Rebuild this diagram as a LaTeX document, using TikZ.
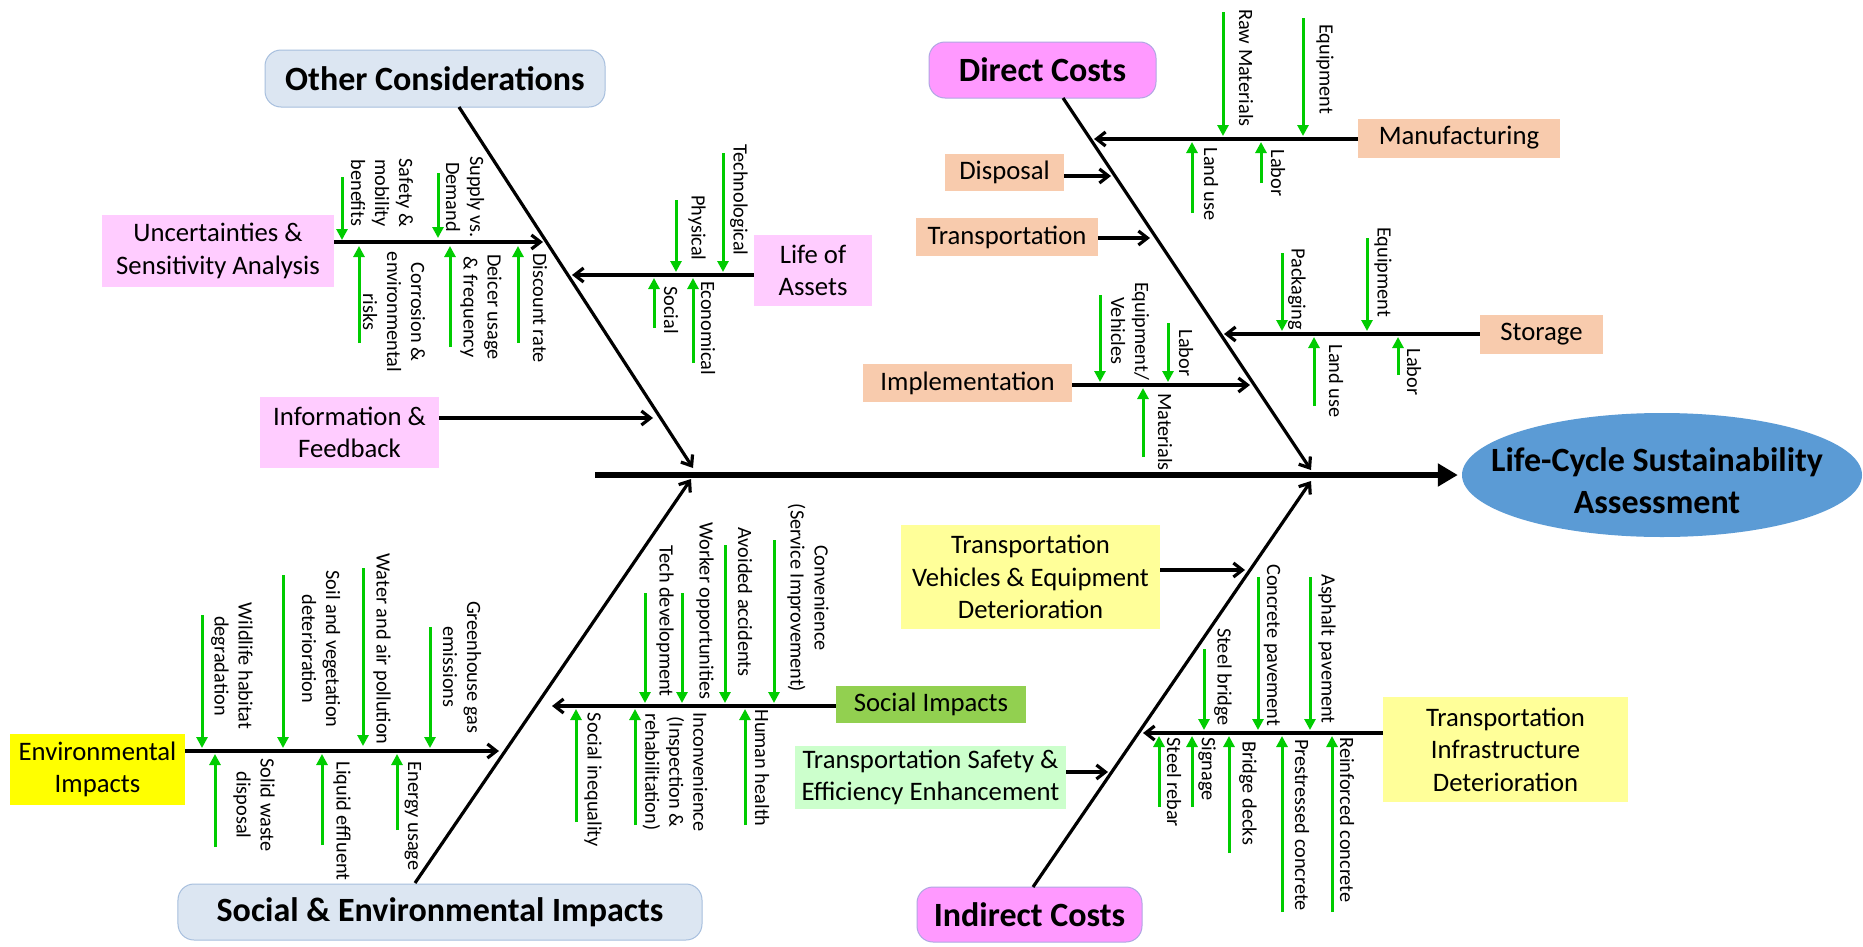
\documentclass[tikz,border=0pt]{standalone}
\usepackage{fontspec}
\setmainfont{Carlito}
\usetikzlibrary{arrows.meta,shapes.geometric}
\definecolor{grn}{HTML}{00CC00}
\definecolor{peach}{HTML}{F8CBAD}
\definecolor{lpink}{HTML}{FFCCFF}
\definecolor{mag}{HTML}{FF99FF}
\definecolor{magline}{HTML}{B0A6E3}
\definecolor{lblue}{HTML}{DCE6F2}
\definecolor{lblueline}{HTML}{A7BFDE}
\definecolor{envy}{HTML}{FFFF00}
\definecolor{ly}{HTML}{FFFF99}
\definecolor{sgreen}{HTML}{92D050}
\definecolor{lgreen}{HTML}{CCFFCC}
\definecolor{ellblue}{HTML}{5B9BD5}
\begin{document}
\begin{tikzpicture}[x=1bp,y=-1bp,
  box/.style={draw=none,inner sep=0pt,align=center,font=\fontsize{26.7bp}{32.5bp}\selectfont},
  ttl/.style={rounded corners=16bp,line width=1bp,inner sep=0pt,font=\fontsize{34bp}{42bp}\selectfont\bfseries},
  lab/.style={rotate=-90,align=center,inner sep=0pt,font=\fontsize{20.3bp}{24bp}\selectfont},
  br/.style={line width=3.2bp,-{Straight Barb[length=9bp,width=14bp]}},
  ga/.style={draw=grn,line width=3bp,-{Triangle[length=11bp,width=11bp]}},
]
\useasboundingbox[fill=white] (0,0) rectangle (1863,946);

% ---------- title boxes ----------
\node[ttl,draw=lblueline,fill=lblue,minimum width=340bp,minimum height=57bp] (oc) at (435,78.5) {Other Considerations};
\node[ttl,draw=magline,fill=mag,minimum width=227bp,minimum height=56bp] (dc) at (1042.5,70) {Direct Costs};
\node[ttl,draw=lblueline,fill=lblue,minimum width=524bp,minimum height=56bp] (se) at (440,912) {Social \& Environmental Impacts};
\node[ttl,draw=magline,fill=mag,minimum width=225bp,minimum height=55bp] (ic) at (1029.5,914.5) {Indirect Costs};

% ---------- effect ----------
\node[ellipse,fill=ellblue,minimum width=400bp,minimum height=124bp,inner sep=0pt] (lcsa) at (1662,475) {};
\node[align=center,inner sep=0pt,font=\fontsize{34bp}{42bp}\selectfont\bfseries] (lcsaText) at (1657,481) {Life-Cycle Sustainability\\Assessment};

% ---------- cause boxes ----------
\node[box,fill=peach,minimum width=202bp,minimum height=39bp] (manu) at (1459,138) {Manufacturing};
\node[box,fill=peach,minimum width=119bp,minimum height=37bp] (disp) at (1004.5,172) {Disposal};
\node[box,fill=peach,minimum width=182bp,minimum height=38bp] (trans) at (1007,237) {Transportation};
\node[box,fill=peach,minimum width=123bp,minimum height=39bp] (stor) at (1541.5,334.5) {Storage};
\node[box,fill=peach,minimum width=209bp,minimum height=38bp] (impl) at (967.5,383) {Implementation};
\node[box,fill=lpink,minimum width=232bp,minimum height=72bp] (unc) at (218,251) {Uncertainties \&\\Sensitivity Analysis};
\node[box,fill=lpink,minimum width=118bp,minimum height=71bp] (loa) at (813,270.5) {Life of\\Assets};
\node[box,fill=lpink,minimum width=179bp,minimum height=71bp] (info) at (349.5,432.5) {Information \&\\Feedback};
\node[box,fill=envy,minimum width=175bp,minimum height=71bp] (env) at (97.5,769.5) {Environmental\\Impacts};
\node[box,fill=sgreen,minimum width=190bp,minimum height=37bp] (soc) at (931,704.5) {Social Impacts};
\node[box,fill=ly,minimum width=259bp,minimum height=104bp] (tved) at (1030.5,577) {Transportation\\Vehicles \& Equipment\\Deterioration};
\node[box,fill=lgreen,minimum width=271bp,minimum height=63bp] (tsee) at (930.5,777.5) {Transportation Safety \&\\Efficiency Enhancement};
\node[box,fill=ly,minimum width=245bp,minimum height=105bp] (tid) at (1505.5,749.5) {Transportation\\Infrastructure\\Deterioration};

% ---------- spine coordinates ----------
\coordinate (ocTop) at (459,107);
\coordinate (ocTip) at (693,468);
\coordinate (dcTop) at (1063,98);
\coordinate (dcTip) at (1311,470);
\coordinate (seBot) at (415,883);
\coordinate (seTip) at (691,479);
\coordinate (icBot) at (1033,887);
\coordinate (icTip) at (1311,481);
\coordinate (mainStart) at (595,475);

% ---------- branch tips ----------
\coordinate (tUnc) at (543,242);
\coordinate (tLoA) at (572,275);
\coordinate (tInfo) at (653,418);
\coordinate (tManu) at (1094,139);
\coordinate (tDisp) at (1111,176);
\coordinate (tTrans) at (1150,238);
\coordinate (tStor) at (1224,334);
\coordinate (tImpl) at (1250,385);
\coordinate (tEnv) at (499,751);
\coordinate (tSoc) at (552,706);
\coordinate (tTVED) at (1245,570);
\coordinate (tTSEE) at (1108,772);
\coordinate (tTID) at (1143,733);

% ---------- main spine and bones ----------
\draw[line width=6bp,-{Triangle[length=20bp,width=22bp]},shorten >=4bp] (mainStart) -- (lcsa.west);
\draw[br] (ocTop) -- (ocTip);
\draw[br] (dcTop) -- (dcTip);
\draw[br] (seBot) -- (seTip);
\draw[br] (icBot) -- (icTip);

% ---------- branches ----------
\draw[br] (unc.east |- tUnc) -- (tUnc);
\draw[br] (loa.west |- tLoA) -- (tLoA);
\draw[br] (info.east |- tInfo) -- (tInfo);
\draw[br] (manu.west |- tManu) -- (tManu);
\draw[br] (disp.east |- tDisp) -- (tDisp);
\draw[br] (trans.east |- tTrans) -- (tTrans);
\draw[br] (stor.west |- tStor) -- (tStor);
\draw[br] (impl.east |- tImpl) -- (tImpl);
\draw[br] (env.east |- tEnv) -- (tEnv);
\draw[br] (soc.west |- tSoc) -- (tSoc);
\draw[br] (tved.east |- tTVED) -- (tTVED);
\draw[br] (tsee.east |- tTSEE) -- (tTSEE);
\draw[br] (tid.west |- tTID) -- (tTID);

% ---------- green sub-cause arrows ----------
% Uncertainties
\draw[ga] (342,177) -- (342,240);
\draw[ga] (438,173) -- (438,238);
\draw[ga] (359,343) -- (359,246);
\draw[ga] (450,347) -- (450,246);
\draw[ga] (518,343) -- (518,246);
% Life of assets
\draw[ga] (723,153) -- (723,272);
\draw[ga] (676,200) -- (676,272);
\draw[ga] (654,328) -- (654,278);
\draw[ga] (693,363) -- (693,278);
% Manufacturing
\draw[ga] (1223,12) -- (1223,136);
\draw[ga] (1303,18) -- (1303,136);
\draw[ga] (1192,213) -- (1192,142);
\draw[ga] (1261,183) -- (1261,142);
% Storage
\draw[ga] (1282,253) -- (1282,331);
\draw[ga] (1367,238) -- (1367,331);
\draw[ga] (1314,406) -- (1314,337);
\draw[ga] (1398,375) -- (1398,337);
% Implementation
\draw[ga] (1100,295) -- (1100,382);
\draw[ga] (1168,323) -- (1168,382);
\draw[ga] (1143,457) -- (1143,388);
% Environmental
\draw[ga] (202,615) -- (202,748);
\draw[ga] (283,575) -- (283,748);
\draw[ga] (363,568) -- (363,746);
\draw[ga] (430,627) -- (430,748);
\draw[ga] (215,847) -- (215,754);
\draw[ga] (322,845) -- (322,754);
\draw[ga] (397,830) -- (397,754);
% Social
\draw[ga] (774,540) -- (774,703);
\draw[ga] (725,545) -- (725,703);
\draw[ga] (682,593) -- (682,703);
\draw[ga] (645,593) -- (645,703);
\draw[ga] (576,822) -- (576,709);
\draw[ga] (745,825) -- (745,709);
\draw[ga] (635,825) -- (635,709);
% Infrastructure
\draw[ga] (1204,649) -- (1204,730);
\draw[ga] (1258,577) -- (1258,730);
\draw[ga] (1310,577) -- (1310,730);
\draw[ga] (1159,807) -- (1159,736);
\draw[ga] (1192,807) -- (1192,736);
\draw[ga] (1229,853) -- (1229,736);
\draw[ga] (1282,912) -- (1282,736);
\draw[ga] (1332,912) -- (1332,736);

% ---------- labels ----------
\node[lab] (l1) at (382,193) {Safety \&\\mobility\\benefits};
\node[lab] (l2) at (465,197) {Supply vs.\\Demand};
\node[lab] (l3) at (394,312) {Corrosion \&\\environmental\\risks};
\node[lab] (l4) at (481,307) {Deicer usage\\\& frequency};
\node[lab] (l5) at (540,308) {Discount rate};
\node[lab] (l6) at (739,200) {Technological};
\node[lab] (l7) at (697,228) {Physical};
\node[lab] (l8) at (671,310) {Social};
\node[lab] (l9) at (708,328) {Economical};
\node[lab] (l10) at (1246,68) {Raw Materials};
\node[lab] (l11) at (1325,69) {Equipment};
\node[lab] (l12) at (1211,184) {Land use};
\node[lab] (l13) at (1278,173) {Labor};
\node[lab] (l14) at (1297,289) {Packaging};
\node[lab] (l15) at (1383,272) {Equipment};
\node[lab] (l16) at (1336,381) {Land use};
\node[lab] (l17) at (1414,372) {Labor};
\node[lab] (l18) at (1130,331) {Equipment/\\Vehicles};
\node[lab] (l19) at (1186,353) {Labor};
\node[lab] (l20) at (1165,432) {Materials};
\node[lab] (l21) at (232,666) {Wildlife habitat\\degradation};
\node[lab] (l22) at (321,649) {Soil and vegetation\\deterioration};
\node[lab] (l23) at (382,649) {Water and air pollution};
\node[lab] (l24) at (462,667) {Greenhouse gas\\emissions};
\node[lab] (l25) at (254,805) {Solid waste\\disposal};
\node[lab] (l26) at (342,821) {Liquid effluent};
\node[lab] (l27) at (413,816) {Energy usage};
\node[lab] (l28) at (808,598) {Convenience\\(Service Improvement)};
\node[lab] (l29) at (745,602) {Avoided accidents};
\node[lab] (l30) at (705,611) {Worker opportunities};
\node[lab] (l31) at (665,621) {Tech development};
\node[lab] (l32) at (593,780) {Social inequality};
\node[lab] (l33) at (762,768) {Human health};
\node[lab] (l34) at (675,772) {Inconvenience\\(Inspection \&\\rehabilitation)};
\node[lab] (l35) at (1223,677) {Steel bridge};
\node[lab] (l36) at (1272,645) {Concrete pavement};
\node[lab] (l37) at (1327,649) {Asphalt pavement};
\node[lab] (l38) at (1174,782) {Steel rebar};
\node[lab] (l39) at (1207,769) {Signage};
\node[lab] (l40) at (1248,793) {Bridge decks};
\node[lab] (l41) at (1302,825) {Prestressed concrete};
\node[lab] (l42) at (1347,820) {Reinforced concrete};
\end{tikzpicture}
\end{document}
